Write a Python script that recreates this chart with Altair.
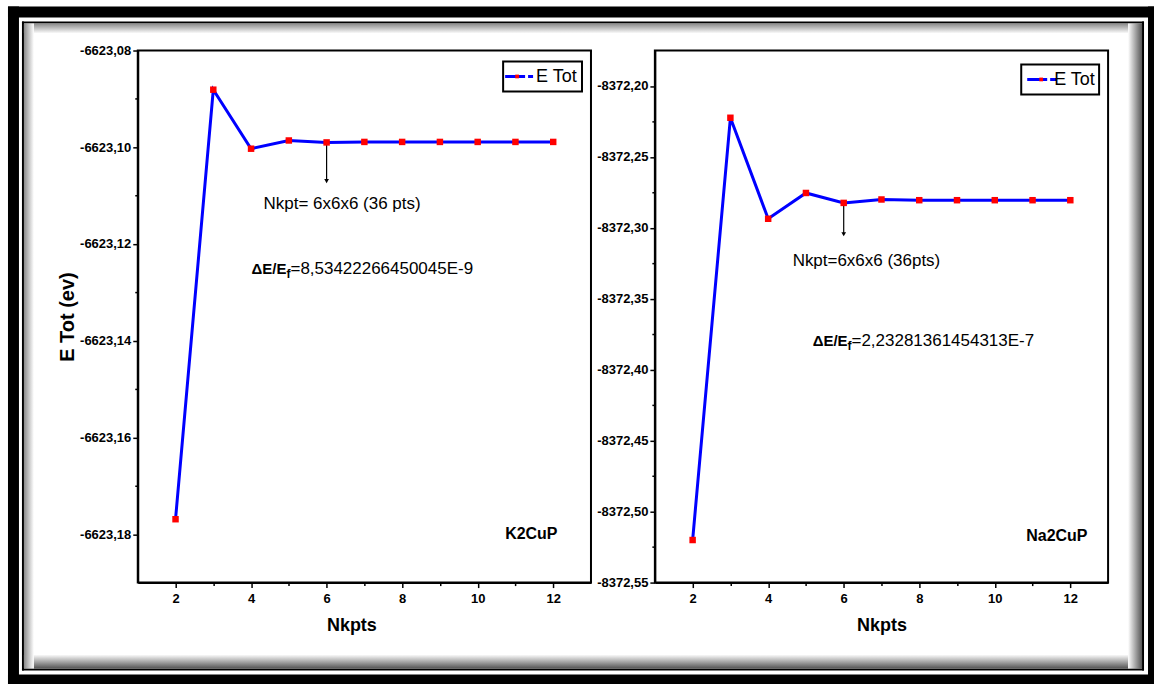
import altair as alt
import pandas as pd

# ---------------- data ----------------
nkpts = [2, 3, 4, 5, 6, 7, 8, 9, 10, 11, 12]
etot_k2cup = [-6623.1769, -6623.0881, -6623.1003, -6623.0986, -6623.0990, -6623.0989,
              -6623.0989, -6623.0989, -6623.0989, -6623.0989, -6623.0989]
etot_na2cup = [-8372.5200, -8372.2224, -8372.2936, -8372.2754, -8372.2824, -8372.2800,
               -8372.2805, -8372.2805, -8372.2805, -8372.2805, -8372.2805]

x_major = [2, 4, 6, 8, 10, 12]
x_minor = [3, 5, 7, 9, 11]
y_major_k = [-6623.08, -6623.10, -6623.12, -6623.14, -6623.16, -6623.18]
y_minor_k = [-6623.09, -6623.11, -6623.13, -6623.15, -6623.17]
y_major_na = [-8372.20, -8372.25, -8372.30, -8372.35, -8372.40, -8372.45, -8372.50, -8372.55]
y_minor_na = [-8372.225, -8372.275, -8372.325, -8372.375, -8372.425, -8372.475, -8372.525]

label_k = ["Nkpt= 6x6x6 (36 pts)", "=8,53422266450045E-9", "K2CuP"]
label_na = ["Nkpt=6x6x6 (36pts)", "=2,23281361454313E-7", "Na2CuP"]
arrow_k = [6, -6623.0993, -6623.1070]
arrow_na = [6, -8372.2830, -8372.3045]

FONT = "Liberation Sans, Arial, sans-serif"
W, H = 454, 533
one = pd.DataFrame({"d": [0]})


def deco_rect(x, x2, y, y2, fill):
    return alt.Chart(one).mark_rect(fill=fill, strokeWidth=0).encode(
        x=alt.value(x), x2=alt.value(x2), y=alt.value(y), y2=alt.value(y2))


def grad(x1, y1, x2, y2, c1, c2):
    return alt.LinearGradient(gradient="linear", x1=x1, y1=y1, x2=x2, y2=y2,
                              stops=[alt.GradientStop(color=c1, offset=0),
                                     alt.GradientStop(color=c2, offset=1)])


def frame_layers():
    k = "#000000"
    dark, dark2, wh = "#8a8a8a", "#555555", "#ffffff"
    return [
        # thick outer border
        deco_rect(-130, 1018, -44, -33, k),
        deco_rect(-130, 1018, 625, 635, k),
        deco_rect(-130, -119, -44, 635, k),
        deco_rect(1012, 1018, -44, 635, k),
        # thin inner line
        deco_rect(-116, 1008, -29, -27, k),
        deco_rect(-116, 1008, 619, 621, k),
        deco_rect(-116, -114, -29, 621, k),
        deco_rect(1006, 1008, -29, 621, k),
        # inner shadow
        deco_rect(-114, 1006, -27, -17, grad(0, 0, 0, 1, dark, wh)),
        deco_rect(-114, 1006, 605, 619, grad(0, 0, 0, 1, wh, dark2)),
        deco_rect(-114, -104, -27, 619, grad(0, 0, 1, 0, dark, wh)),
        deco_rect(992, 1006, -27, 619, grad(0, 0, 1, 0, wh, dark2)),
    ]


def panel(values, ydomain, ymaj, ymin, major_test, ytitle, labels, arrow,
          text_pos, legend_pos, frame=False, xtitle_x=None):
    df = pd.DataFrame({"nk": nkpts, "e": values})
    xaxis = dict(values=x_major + x_minor,
                 labelExpr="datum.value % 2 == 0 ? datum.label : ''",
                 tickSize={"condition": {"test": "datum.value % 2 == 0", "value": 5}, "value": 3},
                 tickWidth=1.5, tickColor="black", domainColor="black", domainWidth=2,
                 labelFont=FONT, labelFontSize=13, labelFontWeight="bold",
                 labelColor="black", labelPadding=5, labelFlush=False,
                 title="Nkpts", titleFont=FONT, titleFontSize=18,
                 titleFontWeight="bold", titleColor="black", titlePadding=11,
                 grid=False)
    if xtitle_x is not None:
        xaxis.update(titleX=xtitle_x)
    xenc = alt.X("nk:Q", scale=alt.Scale(domain=[1, 13], nice=False, zero=False),
                 axis=alt.Axis(**xaxis))
    yaxis = dict(values=ymaj + ymin,
                 labelExpr=f"({major_test}) ? '-' + replace(format(abs(datum.value), '.2f'), '.', ',') : ''",
                 tickSize={"condition": {"test": major_test, "value": 5}, "value": 3},
                 tickWidth=1.5, tickColor="black", domainColor="black", domainWidth=2,
                 labelFont=FONT, labelFontSize=13, labelFontWeight="bold",
                 labelColor="black", labelPadding=2, labelFlush=False, grid=False)
    if ytitle:
        yaxis.update(title=ytitle, titleFont=FONT, titleFontSize=20, titleFontWeight="bold",
                     titleColor="black", titlePadding=2)
    else:
        yaxis.update(title=None)
    yenc = alt.Y("e:Q", scale=alt.Scale(domain=ydomain, nice=False, zero=False),
                 axis=alt.Axis(**yaxis))

    line = alt.Chart(df).mark_line(color="#0000ff", strokeWidth=3).encode(x=xenc, y=yenc)
    pts = alt.Chart(df).mark_square(color="#ff0000", size=42, opacity=1).encode(x=xenc, y=yenc)

    adf = pd.DataFrame({"nk": [arrow[0]], "e": [arrow[1]], "e2": [arrow[2]]})
    arr = alt.Chart(adf).mark_rule(color="black", strokeWidth=1.2).encode(x=xenc, y=yenc, y2="e2:Q")
    head_df = pd.DataFrame({"nk": [arrow[0]], "e": [arrow[2]]})
    head = alt.Chart(head_df).mark_point(shape="triangle-down", filled=True, color="black",
                                         size=22, opacity=1).encode(x=xenc, y=yenc)

    (nx, ny), (ex, ey), (cx, cy) = text_pos
    t1 = alt.Chart(one).mark_text(text=labels[0], font=FONT, fontSize=17, align="left",
                                  baseline="middle", color="black").encode(x=alt.value(nx), y=alt.value(ny))
    t2a = alt.Chart(one).mark_text(text="ΔE/E", font=FONT, fontSize=15, fontWeight="bold",
                                   align="right", baseline="middle", color="black").encode(
        x=alt.value(ex - 4), y=alt.value(ey))
    t2b = alt.Chart(one).mark_text(text="f", font=FONT, fontSize=12, fontWeight="bold",
                                   align="center", baseline="middle", color="black").encode(
        x=alt.value(ex - 2), y=alt.value(ey + 5))
    t2c = alt.Chart(one).mark_text(text=labels[1], font=FONT, fontSize=17, align="left",
                                   baseline="middle", color="black").encode(x=alt.value(ex), y=alt.value(ey))
    t3 = alt.Chart(one).mark_text(text=labels[2], font=FONT, fontSize=16, fontWeight="bold",
                                  align="left", baseline="middle", color="black").encode(
        x=alt.value(cx), y=alt.value(cy))

    lx1, lx2, ly1, ly2, line_x1, line_x2, red_x, tx = legend_pos
    ly = (ly1 + ly2) / 2
    lbox = alt.Chart(one).mark_rect(fill="white", stroke="black", strokeWidth=2).encode(
        x=alt.value(lx1), x2=alt.value(lx2), y=alt.value(ly1), y2=alt.value(ly2))
    lline = alt.Chart(one).mark_rule(color="#0000ff", strokeWidth=3, strokeDash=[20, 3, 8, 3]).encode(
        x=alt.value(line_x1), x2=alt.value(line_x2), y=alt.value(ly))
    lpt = alt.Chart(one).mark_square(color="#ff0000", size=14, opacity=1).encode(
        x=alt.value(red_x), y=alt.value(ly))
    ltxt = alt.Chart(one).mark_text(text="E Tot", font=FONT, fontSize=18, align="left",
                                    baseline="middle", color="black").encode(
        x=alt.value(tx), y=alt.value(ly + 1))

    layers = (frame_layers() if frame else []) + [line, arr, head, pts, t1, t2a, t2b, t2c, t3,
                                                   lbox, lline, lpt, ltxt]
    return alt.layer(*layers).properties(width=W, height=H)


left = panel(etot_k2cup, [-6623.19, -6623.08], y_major_k, y_minor_k,
             "abs(round(datum.value*100)) % 2 == 0", "E Tot (ev)", label_k, arrow_k,
             [(126, 154), (153, 219), (368, 484)],
             (366, 445, 11, 41, 368, 396, 380, 399), frame=True, xtitle_x=214)
right = panel(etot_na2cup, [-8372.55, -8372.175], y_major_na, y_minor_na,
              "abs(round(datum.value*1000)) % 50 == 0", None, label_na, arrow_na,
              [(138, 211), (197, 291), (372, 486)],
              (367, 445, 14, 44, 373, 402, 387, 400))

chart = alt.hconcat(left, right, spacing=64, bounds="flush").properties(
    padding={"left": 7, "top": 5, "right": 0, "bottom": 0},
    background="white",
).configure_view(stroke="black", strokeWidth=2)

chart.save("out.html", embed_options={"renderer": "svg", "actions": False})
